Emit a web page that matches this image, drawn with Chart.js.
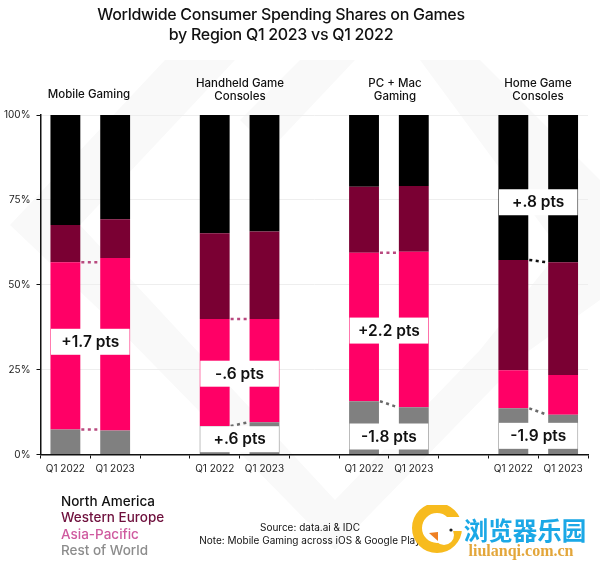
<!DOCTYPE html>
<html lang="en">
<head>
<meta charset="UTF-8">
<title>Worldwide Consumer Spending Shares on Games</title>
<script src="https://cdn.jsdelivr.net/npm/chart.js"></script>
<style>
  html, body { margin: 0; padding: 0; background: #fff; }
  #page { position: relative; width: 600px; height: 561px; overflow: hidden; font-family: Inter, sans-serif; color: #111; }
  #bg, #page canvas { position: absolute; left: 0; top: 0; }
  .t { position: absolute; white-space: nowrap; transform: translate(-50%, -50%); text-align: center; }
  .title { font-size: 16px; font-weight: 500; letter-spacing: -0.3px; line-height: 20px; left: 281px; top: 24px; }
  .group { font-size: 11.5px; font-weight: 500; line-height: 13px; }
  .legend { position: absolute; left: 61px; top: 493px; font-size: 13.5px; font-weight: 500; line-height: 16.3px; }
  .source { font-size: 10px; line-height: 13px; left: 310px; top: 534px; }
  .brand { font-family: "Noto Sans CJK SC", sans-serif; font-weight: 700; font-size: 24.5px; color: #1ba8e6; left: 525px; top: 529px; }
  .brand2 { font-family: "Liberation Serif", serif; font-weight: 700; font-size: 16px; color: #e3a63a; left: 521px; top: 551px; }
</style>
</head>
<body>
<div id="page">
  <svg id="bg" width="600" height="561">
    <g fill="#f9f9f9">
      <polygon points="165,60 235,60 80,225 150,300 335,500 480,350 530,350 335,550 110,320 10,225"/>
      <polygon points="420,60 480,60 600,180 600,300 530,350 480,350 560,250"/>
      <polygon points="300,60 355,60 270,150 240,120"/>
    </g>
  </svg>
  <canvas id="chart" width="600" height="561"></canvas>

  <div class="t title">Worldwide Consumer Spending Shares on Games<br>by Region Q1 2023 vs Q1 2022</div>
  <div class="t group" style="left:89px;top:94px">Mobile Gaming</div>
  <div class="t group" style="left:240px;top:90px">Handheld Game<br>Consoles</div>
  <div class="t group" style="left:395px;top:90px">PC + Mac<br>Gaming</div>
  <div class="t group" style="left:538px;top:90px">Home Game<br>Consoles</div>

  <div class="legend">
    <div style="color:#111">North America</div>
    <div style="color:#6e0f3c">Western Europe</div>
    <div style="color:#cf5a9f">Asia-Pacific</div>
    <div style="color:#8c8c8c">Rest of World</div>
  </div>
  <div class="t source">Source: data.ai &amp; IDC<br>Note: Mobile Gaming across iOS &amp; Google Play</div>

  <svg id="logo" width="60" height="60" style="position:absolute;left:410px;top:505px">
    <circle cx="27" cy="23" r="20" fill="none" stroke="#f7bb1e" stroke-width="10"/>
    <rect x="28" y="12" width="24" height="14" fill="#fff"/>
    <circle cx="34" cy="30" r="10" fill="#fff"/>
    <polygon points="19,28 28,27 28,36" fill="#ee7f22"/>
    <circle cx="41" cy="25" r="1.6" fill="#222"/>
  </svg>
  <div class="t brand">浏览器乐园</div>
  <div class="t brand2">liulanqi.com.cn</div>
</div>

<script>
  const categories = ['Q1 2022', 'Q1 2023', '', 'Q1 2022', 'Q1 2023', '', 'Q1 2022', 'Q1 2023', '', 'Q1 2022', 'Q1 2023'];
  const yTicks = [0, 25, 50, 75, 100];

  const restOfWorld = [7.4, 7.1, null, 8.4, 9.5, null, 15.7, 13.9, null, 13.6, 11.7];
  const asiaPacific = [49.2, 50.8, null, 31.5, 30.4, null, 43.7, 45.8, null, 11.2, 11.7];
  const westernEurope = [11.0, 11.4, null, 25.3, 25.8, null, 19.5, 19.4, null, 32.5, 33.2];
  const northAmerica = [32.4, 30.7, null, 34.8, 34.3, null, 21.1, 20.9, null, 42.7, 43.4];

  // dotted links between the two bars of a group: first bar, dataset whose top edge is linked, colour
  const linkBars = [0, 0, 3, 3, 6, 6, 9, 9];
  const linkSeries = [1, 0, 1, 0, 1, 0, 2, 0];
  const linkColors = ['#b8497f', '#b8497f', '#b8497f', '#6a6a6a', '#b8497f', '#6a6a6a', '#111111', '#6a6a6a'];
  const linkFlat = [true, true, true, false, true, false, false, false];

  const deltaText = ['+1.7 pts', '-.6 pts', '+.6 pts', '+2.2 pts', '-1.8 pts', '+.8 pts', '-1.9 pts'];
  const deltaBars = [0, 3, 3, 6, 6, 9, 9];
  const deltaLevels = [33.2, 23.8, 4.5, 36.5, 5.3, 74.3, 5.5];

  const annotate = {
    id: 'annotate',
    afterDatasetsDraw(chart) {
      const ctx = chart.ctx;
      const y = chart.scales.y;

      linkBars.forEach((bar, i) => {
        const meta = chart.getDatasetMeta(linkSeries[i]);
        const a = meta.data[bar];
        const b = meta.data[bar + 1];
        ctx.save();
        ctx.strokeStyle = linkColors[i];
        ctx.lineWidth = 2.5;
        ctx.setLineDash([3, 3.5]);
        ctx.beginPath();
        ctx.moveTo(a.x + a.width / 2 + 1, a.y);
        ctx.lineTo(b.x - b.width / 2 - 1, linkFlat[i] ? a.y : b.y);
        ctx.stroke();
        ctx.restore();
      });

      deltaText.forEach((text, i) => {
        const meta = chart.getDatasetMeta(0);
        const a = meta.data[deltaBars[i]];
        const b = meta.data[deltaBars[i] + 1];
        const left = a.x - a.width / 2 + 0.5;
        const right = b.x + b.width / 2 - 0.5;
        const cy = y.getPixelForValue(deltaLevels[i]);
        ctx.save();
        ctx.fillStyle = '#fff';
        ctx.fillRect(left, cy - 13, right - left, 26);
        ctx.fillStyle = '#111';
        ctx.font = '600 15.5px Inter, sans-serif';
        ctx.textAlign = 'center';
        ctx.textBaseline = 'middle';
        ctx.fillText(text, (left + right) / 2, cy + 0.5);
        ctx.restore();
      });
    }
  };

  new Chart(document.getElementById('chart'), {
    type: 'bar',
    data: {
      labels: categories,
      datasets: [
        { label: 'Rest of World', data: restOfWorld, backgroundColor: '#808080' },
        { label: 'Asia-Pacific', data: asiaPacific, backgroundColor: '#ff0066' },
        { label: 'Western Europe', data: westernEurope, backgroundColor: '#7a0033' },
        { label: 'North America', data: northAmerica, backgroundColor: '#000000' }
      ]
    },
    options: {
      responsive: false,
      animation: false,
      layout: { padding: { top: 115, right: 12 } },
      datasets: { bar: { categoryPercentage: 1, barPercentage: 0.6 } },
      plugins: { legend: { display: false }, tooltip: { enabled: false } },
      scales: {
        x: {
          stacked: true,
          afterFit(scale) { scale.height = 106.5; },
          border: { color: '#111', width: 1.5 },
          grid: { offset: true, drawOnChartArea: false, color: '#111', tickLength: 4 },
          ticks: { autoSkip: false, maxRotation: 0, color: '#222', font: { family: 'Inter, sans-serif', size: 10 }, padding: 4 }
        },
        y: {
          stacked: true,
          min: 0,
          max: 100,
          afterFit(scale) { scale.width = 40.5; },
          afterBuildTicks(scale) { scale.ticks = yTicks.map(v => ({ value: v })); },
          border: { color: '#111', width: 1.5 },
          grid: { color: '#eeeeee', tickColor: '#111', tickLength: 4 },
          ticks: { color: '#222', font: { family: 'Inter, sans-serif', size: 10 }, padding: 6, callback: v => v + '%' }
        }
      }
    },
    plugins: [annotate]
  });
</script>
</body>
</html>
